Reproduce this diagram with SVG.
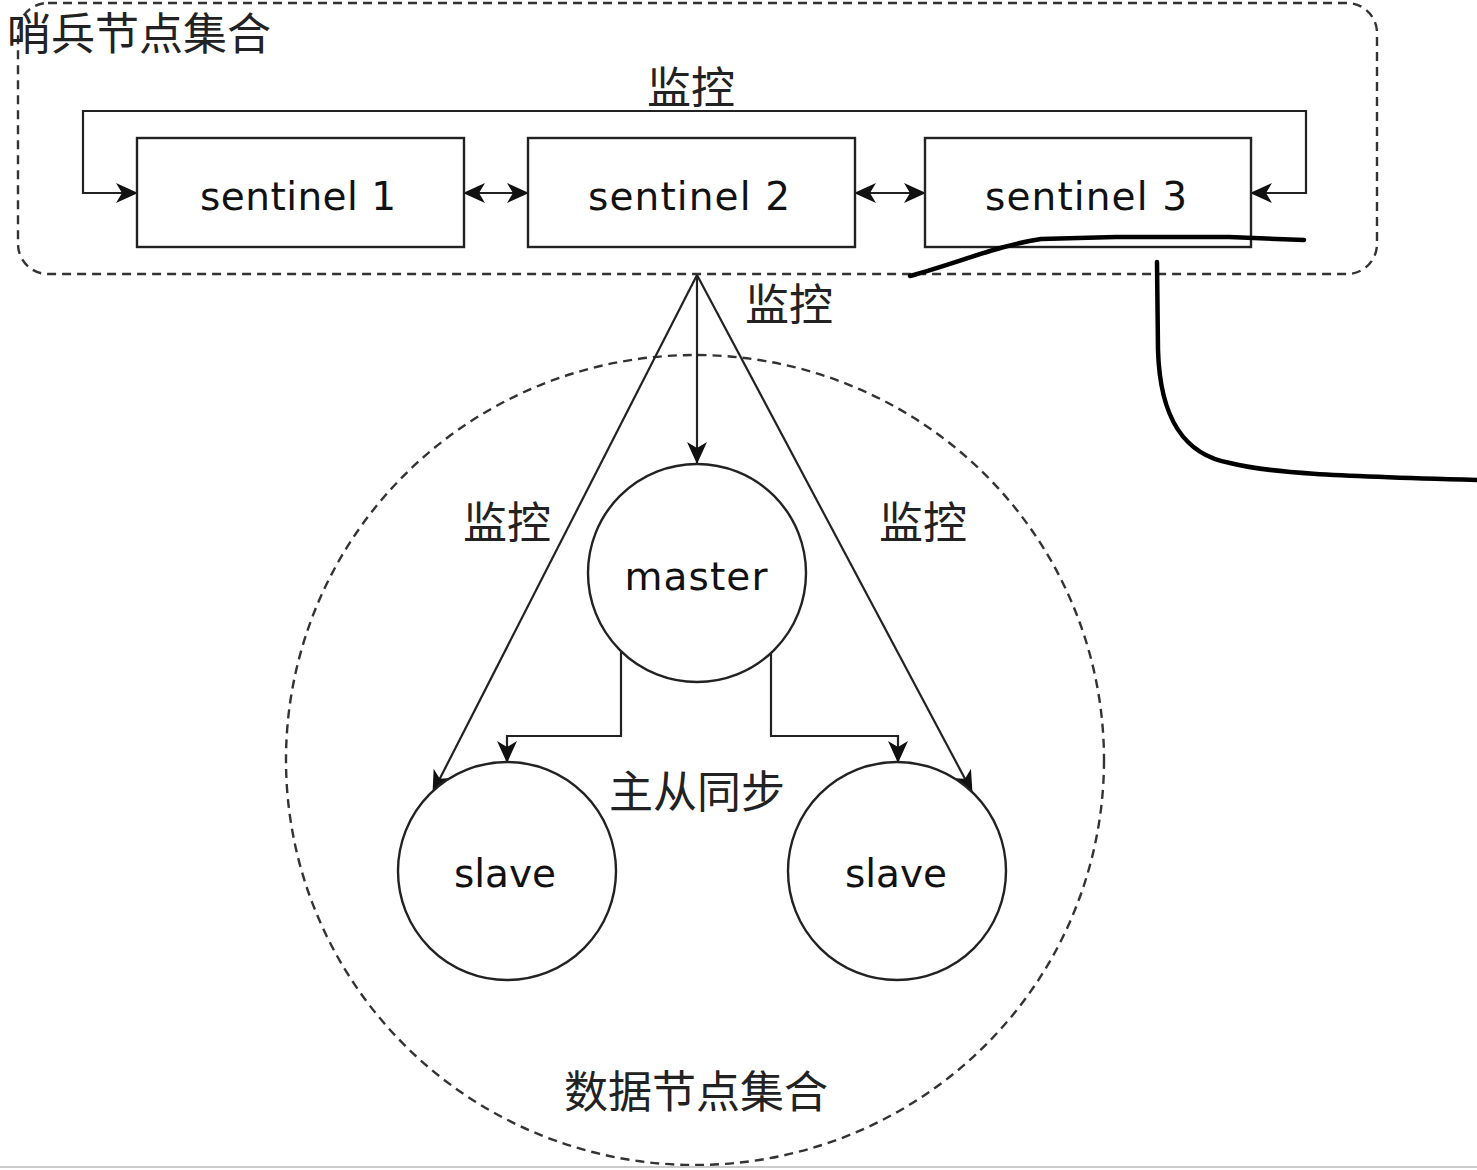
<svg xmlns="http://www.w3.org/2000/svg" width="1477" height="1170" viewBox="0 0 1477 1170">
<defs>
<marker id="arr" viewBox="0 0 22 20" refX="21" refY="10" markerWidth="22" markerHeight="20" markerUnits="userSpaceOnUse" orient="auto-start-reverse">
<path d="M22,10 L0,0 L6,10 L0,20 z" fill="#111"/>
</marker>
</defs>
<style>
.box{fill:#fff;stroke:#222;stroke-width:2.4}
.dash{fill:none;stroke:#333;stroke-width:2.4;stroke-dasharray:9 6}
.edge{fill:none;stroke:#222;stroke-width:2.2}
.lat{font-family:"DejaVu Sans",sans-serif;font-size:39px;fill:#111;text-anchor:middle}
.cjk{font-family:"Noto Sans CJK SC",sans-serif;font-size:44px;fill:#222}
.ink{fill:none;stroke:#000;stroke-width:4.5;stroke-linecap:round;stroke-linejoin:round}
</style>
<rect width="1477" height="1170" fill="#fff"/>

<g id="sentinel-group">
<rect class="dash" x="18" y="3" width="1359" height="271" rx="30" ry="30"/>
<text class="cjk" x="7" y="50">哨兵节点集合</text>
</g>

<g id="data-group">
<ellipse class="dash" cx="695" cy="760" rx="409" ry="405"/>
<text class="cjk" x="696" y="1108" text-anchor="middle">数据节点集合</text>
</g>

<g id="connectors">
<path class="edge" d="M137,193 H83 V111 H1306 V193 H1251" marker-start="url(#arr)" marker-end="url(#arr)"/>
<line class="edge" x1="464" y1="193" x2="528" y2="193" marker-start="url(#arr)" marker-end="url(#arr)"/>
<line class="edge" x1="855" y1="193" x2="925" y2="193" marker-start="url(#arr)" marker-end="url(#arr)"/>
<line class="edge" x1="697" y1="275" x2="697" y2="463" marker-end="url(#arr)"/>
<line class="edge" x1="697" y1="275" x2="433" y2="792" marker-end="url(#arr)"/>
<line class="edge" x1="697" y1="275" x2="972" y2="792" marker-end="url(#arr)"/>
<path class="edge" d="M621,651 V736 H507 V762" marker-end="url(#arr)"/>
<path class="edge" d="M771,653 V736 H898 V762" marker-end="url(#arr)"/>
<text class="cjk" x="691" y="104" text-anchor="middle">监控</text>
<text class="cjk" x="789" y="321" text-anchor="middle">监控</text>
<text class="cjk" x="507" y="539" text-anchor="middle">监控</text>
<text class="cjk" x="923" y="539" text-anchor="middle">监控</text>
<text class="cjk" x="697" y="808" text-anchor="middle">主从同步</text>
</g>

<g id="sentinel1">
<rect class="box" x="137" y="138" width="327" height="109"/>
<text class="lat" x="298" y="210" textLength="196" lengthAdjust="spacing">sentinel 1</text>
</g>
<g id="sentinel2">
<rect class="box" x="528" y="138" width="327" height="109"/>
<text class="lat" x="689" y="210" textLength="202" lengthAdjust="spacing">sentinel 2</text>
</g>
<g id="sentinel3">
<rect class="box" x="925" y="138" width="326" height="109"/>
<text class="lat" x="1086" y="210" textLength="202" lengthAdjust="spacing">sentinel 3</text>
</g>

<g id="master">
<circle class="box" cx="697" cy="573" r="109"/>
<text class="lat" x="696" y="590" textLength="143" lengthAdjust="spacing">master</text>
</g>
<g id="slave1">
<circle class="box" cx="507" cy="871" r="109"/>
<text class="lat" x="505" y="887" textLength="102" lengthAdjust="spacing">slave</text>
</g>
<g id="slave2">
<circle class="box" cx="897" cy="871" r="109"/>
<text class="lat" x="896" y="887" textLength="102" lengthAdjust="spacing">slave</text>
</g>

<g id="ink">
<path class="ink" d="M910,276 C960,262 1000,245 1041,239 L1116,237 L1229,237 L1304,240"/>
<path class="ink" d="M1157,262 L1158,350 C1160,420 1185,455 1230,463 C1270,473 1330,476 1477,480"/>
</g>

<line x1="0" y1="1167" x2="1477" y2="1167" stroke="#ccc" stroke-width="2"/>
</svg>
